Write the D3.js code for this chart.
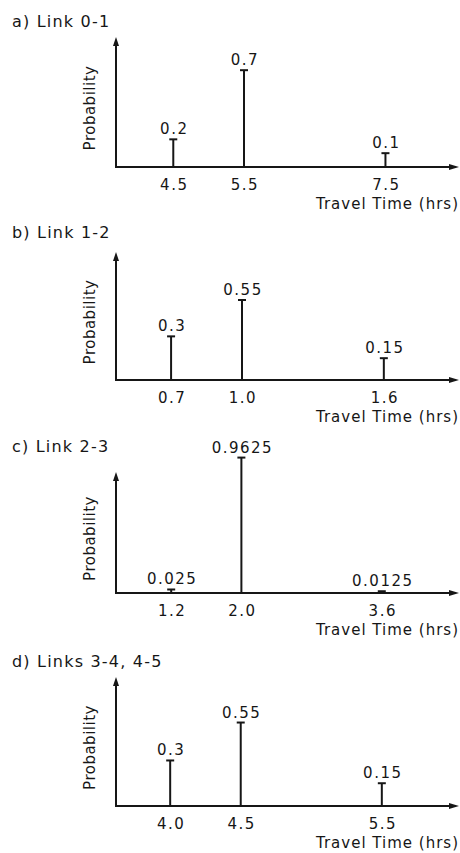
<!DOCTYPE html>
<html>
<head>
<meta charset="utf-8">
<script src="https://cdn.jsdelivr.net/npm/d3@7"></script>
<style>
  html, body { margin: 0; padding: 0; background: #fff; }
  svg { display: block; }
  text { font-family: "DejaVu Sans", sans-serif; fill: #161616; }
</style>
</head>
<body>
<svg id="chart"></svg>
<script>
// travel time distributions, one panel per link
const panelTitles = ["a) Link 0-1", "b) Link 1-2", "c) Link 2-3", "d) Links 3-4, 4-5"];
const travelTimes = [[4.5, 5.5, 7.5], [0.7, 1.0, 1.6], [1.2, 2.0, 3.6], [4.0, 4.5, 5.5]];
const timeLabels = [["4.5", "5.5", "7.5"], ["0.7", "1.0", "1.6"], ["1.2", "2.0", "3.6"], ["4.0", "4.5", "5.5"]];
const probabilities = [[0.2, 0.7, 0.1], [0.3, 0.55, 0.15], [0.025, 0.9625, 0.0125], [0.3, 0.55, 0.15]];
const xDomains = [[3.69, 8.54], [0.467, 1.918], [0.571, 4.48], [3.616, 6.047]];
const yDomains = [[0, 0.94], [0, 0.88], [0, 0.86], [0, 0.85]];

const width = 460, height = 853;
const ink = "#161616";

// layout of each panel (axis baseline, arrow tip, title baseline)
const layout = [
  { title: 27, tip: 37, base: 167 },
  { title: 238, tip: 252, base: 380 },
  { title: 452, tip: 472, base: 593 },
  { title: 667, tip: 677, base: 806 }
];
const axisX = 116, axisEnd = 459;

const svg = d3.select("#chart")
    .attr("width", width)
    .attr("height", height)
    .attr("viewBox", [0, 0, width, height]);

svg.append("rect").attr("width", width).attr("height", height).attr("fill", "#fff");

panelTitles.forEach((title, i) => {
  const L = layout[i];
  const x = d3.scaleLinear().domain(xDomains[i]).range([axisX, axisEnd]);
  const y = d3.scaleLinear().domain(yDomains[i]).range([L.base, L.tip]);
  const g = svg.append("g");

  g.append("text")
      .attr("x", 12)
      .attr("y", L.title)
      .style("font-size", "16px")
      .style("letter-spacing", "1.2px")
      .text(title);

  // axes with arrowheads
  g.append("line")
      .attr("x1", axisX).attr("x2", axisX)
      .attr("y1", L.base + 1).attr("y2", L.tip + 6)
      .attr("stroke", ink).attr("stroke-width", 2);
  g.append("path")
      .attr("d", `M${axisX},${L.tip}L${axisX - 3},${L.tip + 9}L${axisX + 3},${L.tip + 9}Z`)
      .attr("fill", ink);
  g.append("line")
      .attr("x1", axisX - 1).attr("x2", axisEnd - 6)
      .attr("y1", L.base).attr("y2", L.base)
      .attr("stroke", ink).attr("stroke-width", 2);
  g.append("path")
      .attr("d", `M${axisEnd},${L.base}L${axisEnd - 10},${L.base - 3}L${axisEnd - 10},${L.base + 3}Z`)
      .attr("fill", ink);

  const pts = travelTimes[i].map((t, j) => ({ t, p: probabilities[i][j], label: timeLabels[i][j] }));

  const stem = g.selectAll(".stem").data(pts).join("g").attr("class", "stem");
  stem.append("line")
      .attr("x1", d => x(d.t)).attr("x2", d => x(d.t))
      .attr("y1", L.base).attr("y2", d => y(d.p))
      .attr("stroke", ink).attr("stroke-width", 2);
  stem.append("line")
      .attr("x1", d => x(d.t) - 4).attr("x2", d => x(d.t) + 4)
      .attr("y1", d => y(d.p)).attr("y2", d => y(d.p))
      .attr("stroke", ink).attr("stroke-width", 2);
  stem.append("text")
      .attr("x", d => x(d.t) + 1)
      .attr("y", d => y(d.p) - 5)
      .attr("text-anchor", "middle")
      .style("font-size", "15px")
      .style("letter-spacing", "1.5px")
      .text(d => String(d.p));
  stem.append("text")
      .attr("x", d => x(d.t) + 1)
      .attr("y", L.base + 23)
      .attr("text-anchor", "middle")
      .style("font-size", "15px")
      .style("letter-spacing", "1.5px")
      .text(d => d.label);

  g.append("text")
      .attr("x", 459)
      .attr("y", L.base + 42)
      .attr("text-anchor", "end")
      .style("font-size", "15px")
      .style("letter-spacing", "1px")
      .text("Travel Time (hrs)");

  g.append("text")
      .attr("transform", `translate(95,${(L.tip + L.base) / 2 + 6}) rotate(-90)`)
      .attr("text-anchor", "middle")
      .style("font-size", "15px")
      .style("letter-spacing", "0.5px")
      .text("Probability");
});
</script>
</body>
</html>
